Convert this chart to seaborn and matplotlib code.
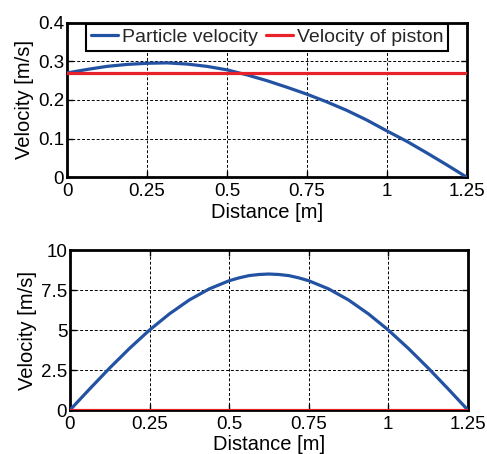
import numpy as np
import pandas as pd
import matplotlib
matplotlib.use("Agg")
import matplotlib.pyplot as plt
import seaborn as sns

# ---- data ----
x_top = [0.0, 0.0625, 0.125, 0.1875, 0.25, 0.3125, 0.375, 0.4375, 0.5, 0.5625,
         0.625, 0.6875, 0.75, 0.8125, 0.875, 0.9375, 1.0, 1.0625, 1.125, 1.1875, 1.25]
particle_top = [0.270, 0.279, 0.287, 0.292, 0.295, 0.296, 0.293, 0.287, 0.278, 0.265,
                0.250, 0.233, 0.215, 0.195, 0.173, 0.148, 0.120, 0.093, 0.063, 0.032, 0.0]
piston_top = [0.27] * len(x_top)

x_bot = [0.0, 0.0625, 0.125, 0.1875, 0.25, 0.3125, 0.375, 0.4375, 0.5, 0.53125, 0.5625,
         0.59375, 0.625, 0.65625, 0.6875, 0.71875, 0.75, 0.8125, 0.875, 0.9375, 1.0,
         1.0625, 1.125, 1.1875, 1.25]
particle_bot = [0.0, 1.33, 2.63, 3.86, 5.0, 6.01, 6.88, 7.57, 8.08, 8.26, 8.40,
                8.47, 8.5, 8.47, 8.40, 8.26, 8.08, 7.57, 6.88, 6.01, 5.0,
                3.86, 2.63, 1.33, 0.0]
piston_bot = [0.0] * len(x_bot)

x_ticks = [0, 0.25, 0.5, 0.75, 1, 1.25]
x_tick_labels = ["0", "0.25", "0.5", "0.75", "1", "1.25"]
y_ticks_top = [0, 0.1, 0.2, 0.3, 0.4]
y_tick_labels_top = ["0", "0.1", "0.2", "0.3", "0.4"]
y_ticks_bot = [0, 2.5, 5, 7.5, 10]
y_tick_labels_bot = ["0", "2.5", "5", "7.5", "10"]

series_names = ["Particle velocity", "Velocity of piston"]
colors = {"Particle velocity": "#2352a3", "Velocity of piston": "#e8222b"}

sns.set_theme(style="white")
plt.rcParams["font.family"] = ["Liberation Sans", "DejaVu Sans"]

fig = plt.figure(figsize=(4.87, 4.54), dpi=100)
ax1 = fig.add_axes([0.1376, 0.6095, 0.821, 0.3405])
ax2 = fig.add_axes([0.1437, 0.0969, 0.817, 0.3524])

df_top = pd.DataFrame({
    "x": x_top * 2,
    "v": particle_top + piston_top,
    "series": [series_names[0]] * len(x_top) + [series_names[1]] * len(x_top),
})
df_bot = pd.DataFrame({
    "x": x_bot * 2,
    "v": particle_bot + piston_bot,
    "series": [series_names[0]] * len(x_bot) + [series_names[1]] * len(x_bot),
})

for ax, df, yt, ytl, ylim, leg in [
    (ax1, df_top, y_ticks_top, y_tick_labels_top, (0, 0.4), True),
    (ax2, df_bot, y_ticks_bot, y_tick_labels_bot, (0, 10), False),
]:
    sns.lineplot(data=df, x="x", y="v", hue="series", palette=colors,
                 linewidth=2.3, ax=ax, legend=leg, zorder=3)
    ax.set_xlim(0, 1.25)
    ax.set_ylim(*ylim)
    ax.set_xticks(x_ticks)
    ax.set_xticklabels(x_tick_labels)
    ax.set_yticks(yt)
    ax.set_yticklabels(ytl)
    ax.grid(True, color="black", linestyle=(0, (3, 2)), linewidth=0.7)
    ax.set_axisbelow(True)
    for s in ax.spines.values():
        s.set_visible(True)
        s.set_color("black")
        s.set_linewidth(2.0)
    ax.tick_params(axis="both", direction="in", length=4, width=1, colors="black",
                   labelsize=13.5, pad=2, top=True, right=True, bottom=True, left=True)
    ax.tick_params(axis="x", pad=4)
    ax.set_xlabel("Distance [m]", fontsize=14.5, labelpad=2, color="black")
    ax.set_ylabel("Velocity [m/s]", fontsize=14.5, labelpad=3, color="black")

leg = ax1.legend(loc="upper center", ncol=2, frameon=True, fancybox=False,
                 edgecolor="black", framealpha=1, fontsize=14,
                 handlelength=1.4, handletextpad=0.2, columnspacing=0.4,
                 borderpad=0.25, borderaxespad=0.05, title=None)
leg.get_frame().set_linewidth(1.5)
for line in leg.get_lines():
    line.set_linewidth(2.3)

fig.savefig("out.png", dpi=100)
